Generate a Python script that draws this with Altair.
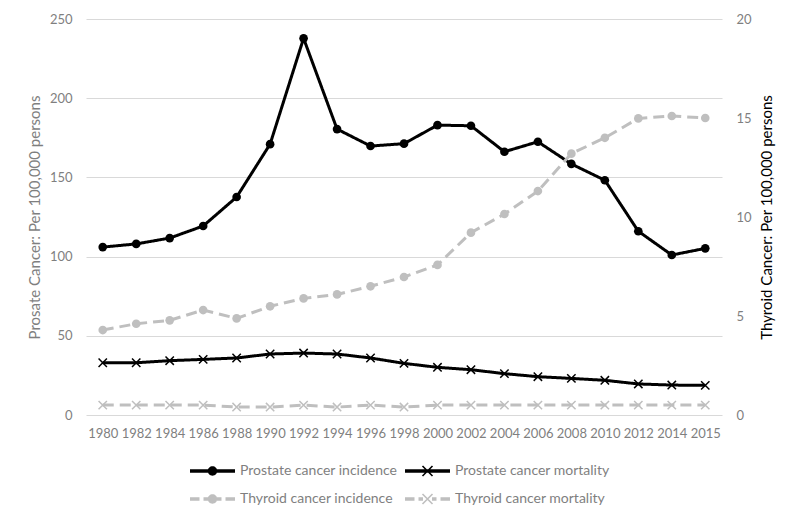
import altair as alt
import pandas as pd

years = ["1980", "1982", "1984", "1986", "1988", "1990", "1992", "1994", "1996",
         "1998", "2000", "2002", "2004", "2006", "2008", "2010", "2012", "2014", "2015"]

prostate_incidence = [106.0, 108.0, 111.7, 119.3, 137.6, 171.0, 237.8, 180.5, 169.8,
                      171.3, 183.0, 182.6, 166.2, 172.5, 158.5, 148.2, 116.0, 101.0, 105.2]
prostate_mortality = [33.0, 33.0, 34.3, 35.1, 36.0, 38.5, 39.1, 38.5, 36.0,
                      32.6, 30.1, 28.6, 26.1, 24.2, 23.1, 21.9, 19.6, 18.9, 18.7]
thyroid_incidence = [4.29, 4.61, 4.78, 5.30, 4.88, 5.49, 5.89, 6.09, 6.50,
                     6.97, 7.58, 9.21, 10.15, 11.31, 13.2, 14.0, 14.98, 15.1, 15.0]
thyroid_mortality = [0.5, 0.5, 0.5, 0.5, 0.4, 0.4, 0.5, 0.4, 0.5,
                     0.4, 0.5, 0.5, 0.5, 0.5, 0.5, 0.5, 0.5, 0.5, 0.5]

PI = "Prostate cancer incidence"
PM = "Prostate cancer mortality"
TI = "Thyroid cancer incidence"
TM = "Thyroid cancer mortality"
series_names = [PI, PM, TI, TM]
series_colors = ["#000000", "#000000", "#bfbfbf", "#bfbfbf"]
series_dash = [[1, 0], [1, 0], [11, 6], [11, 6]]

left_ticks = [0, 50, 100, 150, 200, 250]
right_ticks = [0, 5, 10, 15, 20]

rows = []
for name, vals in zip(series_names, [prostate_incidence, prostate_mortality,
                                     thyroid_incidence, thyroid_mortality]):
    for yr, v in zip(years, vals):
        rows.append({"year": yr, "series": name, "value": v})
df = pd.DataFrame(rows)

LABEL = "#7f7f7f"
FONT = "Lato"

# legend symbol paths (unit box, radius 10px at symbolSize 400)
LINE = "M-2.25,-0.17H2.25V0.17H-2.25Z"
DASHES = ("M-2.25,-0.17H-1.3V0.17H-2.25Z M-0.9,-0.17H-0.45V0.17H-0.9Z "
          "M0.45,-0.17H0.9V0.17H0.45Z M1.3,-0.17H2.25V0.17H1.3Z")
CIRC = "M-0.47,0A0.47,0.47 0 1,1 0.47,0A0.47,0.47 0 1,1 -0.47,0Z"
XSYM = ("M-0.557,0.443L0.443,-0.557L0.557,-0.443L-0.443,0.557Z "
        "M-0.443,-0.557L0.557,0.443L0.443,0.557L-0.557,-0.443Z")
legend_shapes = [LINE + " " + CIRC, LINE + " " + XSYM,
                 DASHES + " " + CIRC, DASHES + " " + XSYM]

color_scale = alt.Scale(domain=series_names, range=series_colors)
shape_scale = alt.Scale(domain=series_names, range=legend_shapes)

legend = alt.Legend(
    title=None, orient="none", legendX=116.5, legendY=442, columns=2,
    direction="horizontal",
    symbolSize=400, symbolStrokeWidth=0, labelOffset=17.5, labelFontSize=14,
    labelFont=FONT, labelColor=LABEL, rowPadding=11, columnPadding=7, padding=0,
    symbolOpacity=1,
)

x_enc = alt.X("year:O", sort=years, scale=alt.Scale(type="point", padding=0.5),
              axis=alt.Axis(title=None, labelAngle=0, ticks=False, domain=False,
                            grid=False, labelPadding=12, labelFontSize=13,
                            labelColor=LABEL, labelFont=FONT))

left_axis = alt.Axis(title="Prosate Cancer: Per 100,000 persons", values=left_ticks,
                     grid=True, gridColor="#d9d9d9", gridWidth=1, domain=False,
                     ticks=False, labelPadding=14, labelFontSize=13, labelColor=LABEL,
                     labelFont=FONT, titleFont=FONT, titleFontSize=15,
                     titleFontWeight="normal", titleColor=LABEL, titlePadding=7)
right_axis = alt.Axis(title="Thyroid Cancer: Per 100,000 persons", values=right_ticks,
                      orient="right", grid=False, domain=False, ticks=False,
                      labelPadding=14, labelFontSize=13, labelColor=LABEL,
                      labelFont=FONT, titleFont=FONT, titleFontSize=15,
                      titleFontWeight="normal", titleColor="#000000",
                      titlePadding=8, titleAngle=270, titleBaseline="top")

X_PATH = "M-1,-1L1,1M-1,1L1,-1"


def series_layers(name, color, dash, marker, y_enc):
    base = alt.Chart(df).transform_filter(
        alt.FieldEqualPredicate(field="series", equal=name))
    line = base.mark_line(strokeWidth=3, color=color, strokeDash=dash).encode(
        x=x_enc, y=y_enc)
    if marker == "circle":
        pts = base.mark_circle(size=75, opacity=1, color=color).encode(x=x_enc, y=y_enc)
    else:
        pts = base.mark_point(shape=X_PATH, size=70, strokeWidth=1.5, filled=False,
                              opacity=1, color=color).encode(x=x_enc, y=y_enc)
    return [line, pts]


yl = alt.Y("value:Q", scale=alt.Scale(domain=[0, 250], nice=False), axis=left_axis)
yr = alt.Y("value:Q", scale=alt.Scale(domain=[0, 20], nice=False), axis=right_axis)

left = alt.layer(*(series_layers(PI, series_colors[0], series_dash[0], "circle", yl)
                   + series_layers(PM, series_colors[1], series_dash[1], "x", yl)))
right = alt.layer(*(series_layers(TI, series_colors[2], series_dash[2], "circle", yr)
                    + series_layers(TM, series_colors[3], series_dash[3], "x", yr)))

# legend-only layer: no rows survive the filter, the legend comes from the scales
legend_layer = alt.Chart(df).transform_filter("datum.value < -1").mark_point(
    filled=True, opacity=1).encode(
    color=alt.Color("series:N", scale=color_scale, legend=legend),
    shape=alt.Shape("series:N", scale=shape_scale, legend=legend),
)

chart = alt.layer(left, right, legend_layer).resolve_scale(y="independent").properties(
    width=636, height=396,
    padding={"left": 78, "top": 11, "right": 70, "bottom": 98},
    autosize=alt.AutoSizeParams(type="none"),
    background="white",
).configure_view(stroke=None)

chart.save("out.html", embed_options={"renderer": "svg", "actions": False})
